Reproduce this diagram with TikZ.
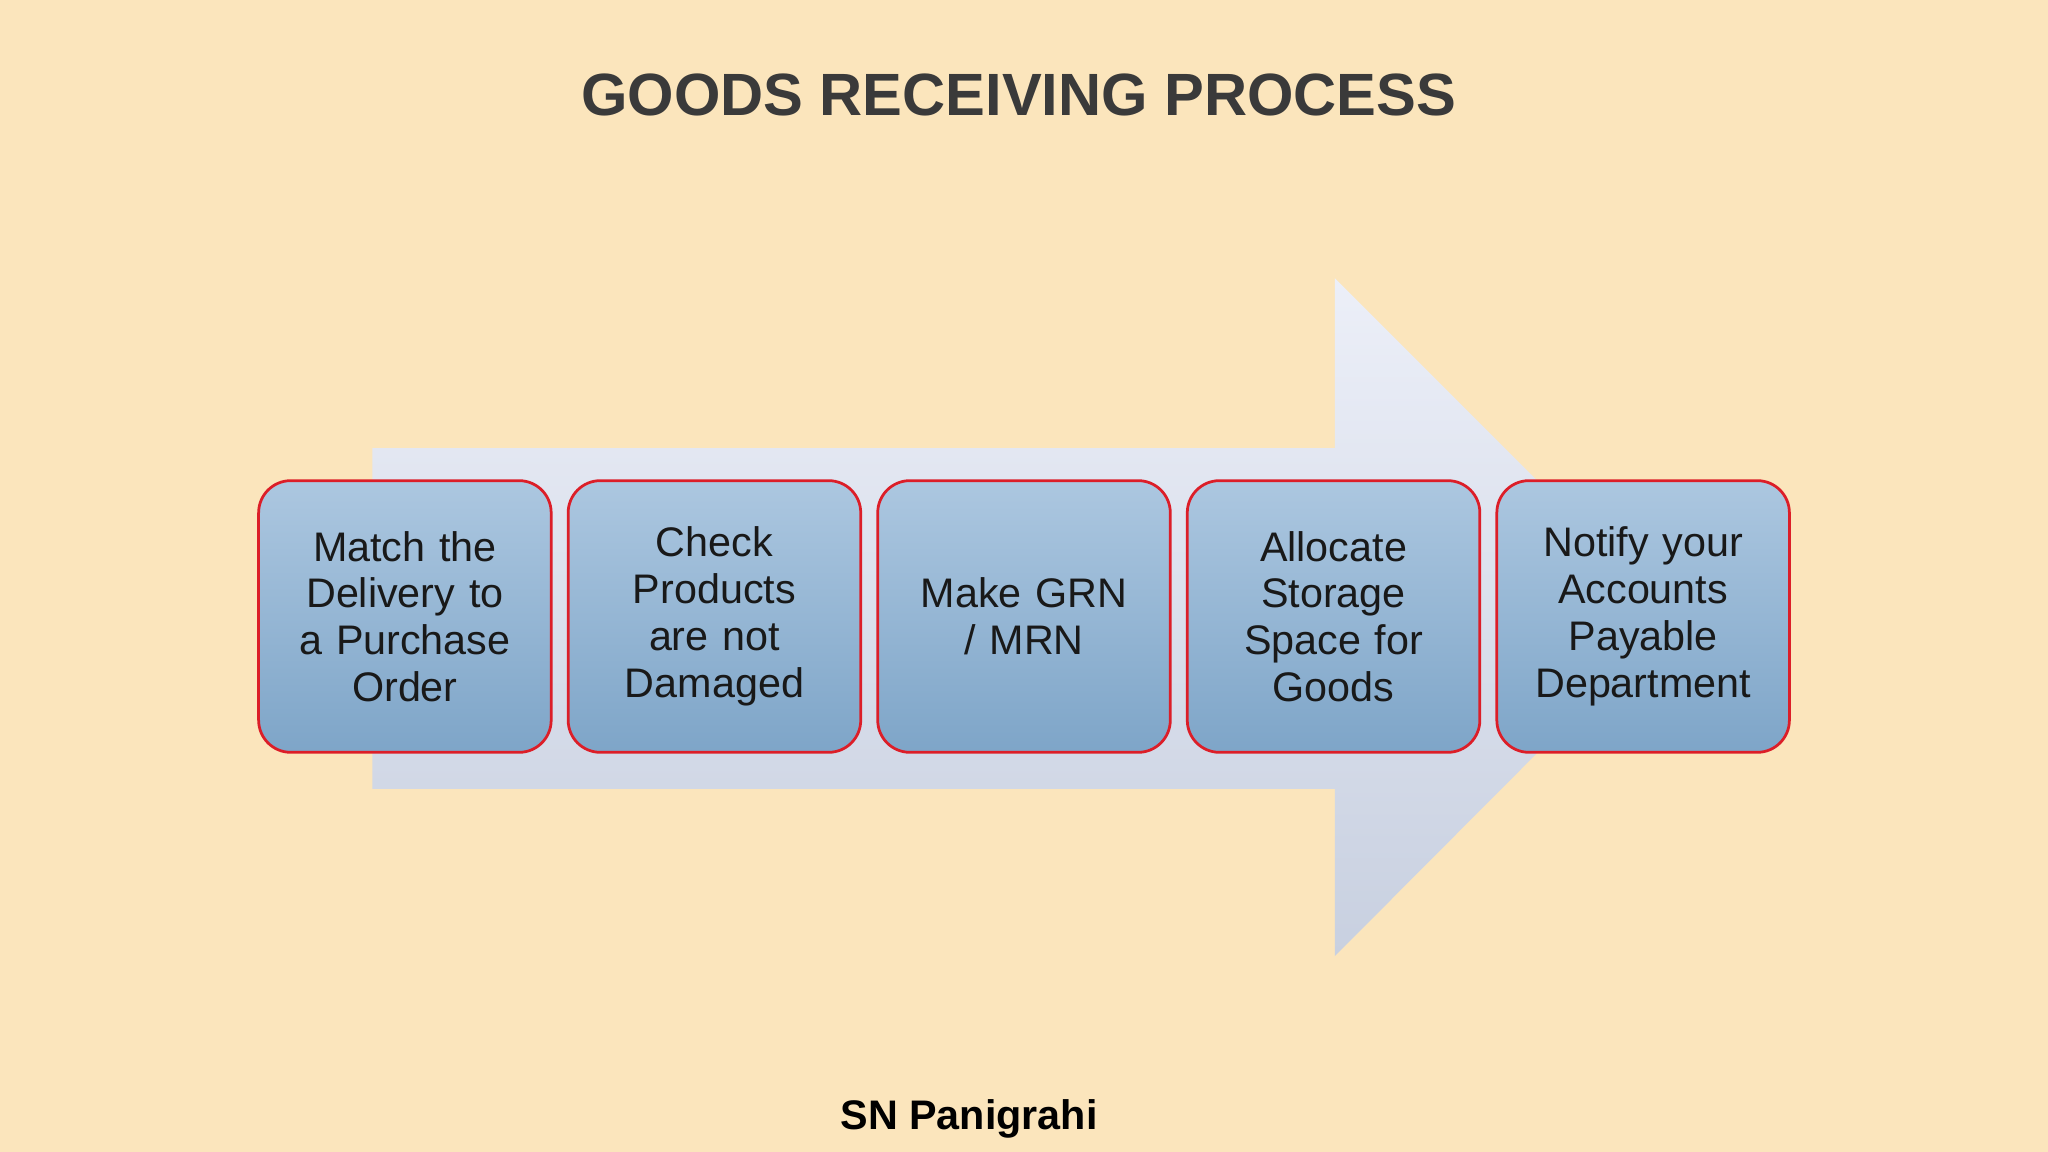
\documentclass[tikz,border=0pt]{standalone}
\usepackage{fontspec}
\setmainfont{Liberation Sans}
\begin{document}
\begin{tikzpicture}[x={(0.02cm,0)},y={(0,-0.02cm)},
 stepbox/.style={draw={rgb,255:red,220;green,30;blue,40},line width=1.2pt,rounded corners=14pt,
  top color={rgb,255:red,172;green,199;blue,224},bottom color={rgb,255:red,126;green,165;blue,200},
  minimum width=224*0.02cm,minimum height=208*0.02cm,text width=210*0.02cm,align=center,
  font=\fontsize{18}{20.4}\selectfont,text=black!90}]
\fill[fill={rgb,255:red,251;green,229;blue,188}] (0,0) rectangle (1568,882);
\node[font=\fontsize{26}{30}\selectfont\bfseries,text={rgb,255:red,58;green,58;blue,58}] (title) at (780,73) {GOODS RECEIVING PROCESS};
\shade[top color={rgb,255:red,236;green,239;blue,248},bottom color={rgb,255:red,200;green,208;blue,224}]
 (285,343) -- (1022,343) -- (1022,213) -- (1281,472) -- (1022,732) -- (1022,604) -- (285,604) -- cycle;
\node[stepbox] (s1) at (310,472) {Match the\\ Delivery to\\ a Purchase\\ Order};
\node[stepbox] (s2) at (547,472) {Check\\ Products\\ are not\\ Damaged};
\node[stepbox] (s3) at (784,472) {Make GRN\\ / MRN};
\node[stepbox] (s4) at (1021,472) {Allocate\\ Storage\\ Space for\\ Goods};
\node[stepbox] (s5) at (1258,472) {Notify your\\ Accounts\\ Payable\\ Department};
\node[font=\fontsize{18}{20}\selectfont\bfseries] (author) at (742,857) {SN Panigrahi};
\end{tikzpicture}
\end{document}
